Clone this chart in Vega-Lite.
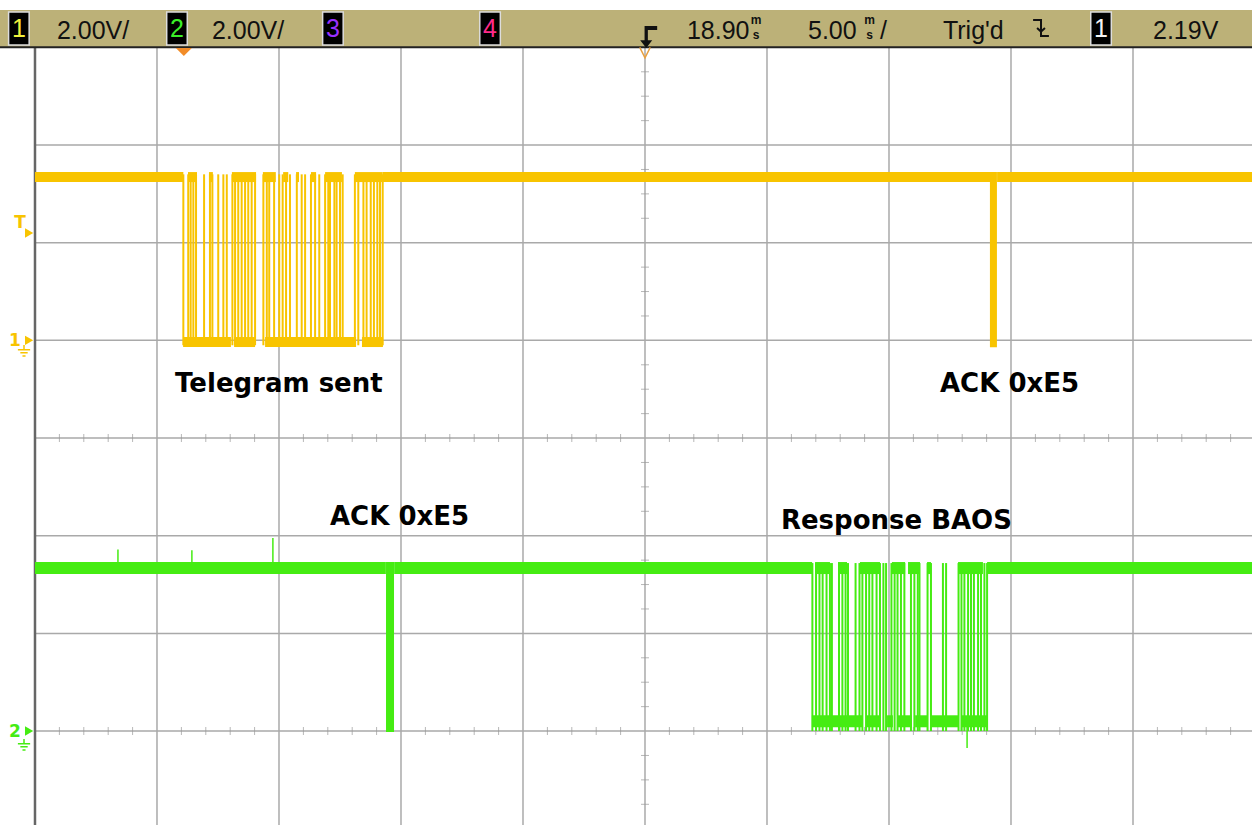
{
"$schema": "https://vega.github.io/schema/vega-lite/v6.json",
"width": 1252, "height": 825, "autosize": {"type": "none"}, "padding": 0,
"background": "white",
"config": {"view": {"stroke": null}},
"datasets": {
 "vgrid": [{"t": -1.1}, {"t": 3.9}, {"t": 8.9}, {"t": 13.9}, {"t": 18.9}, {"t": 23.9}, {"t": 28.9}, {"t": 33.9}, {"t": 38.9}],
 "hgrid": [{"d": 1}, {"d": 2}, {"d": 3}, {"d": 4}, {"d": 5}, {"d": 6}, {"d": 7}],
 "xminor": [{"t":-5.1},{"t":-4.1},{"t":-3.1},{"t":-2.1},{"t":-0.1},{"t":0.9},{"t":1.9},{"t":2.9},{"t":4.9},{"t":5.9},{"t":6.9},{"t":7.9},{"t":9.9},{"t":10.9},{"t":11.9},{"t":12.9},{"t":14.9},{"t":15.9},{"t":16.9},{"t":17.9},{"t":19.9},{"t":20.9},{"t":21.9},{"t":22.9},{"t":24.9},{"t":25.9},{"t":26.9},{"t":27.9},{"t":29.9},{"t":30.9},{"t":31.9},{"t":32.9},{"t":34.9},{"t":35.9},{"t":36.9},{"t":37.9},{"t":39.9},{"t":40.9},{"t":41.9},{"t":42.9}],
 "yminor": [{"d":0.25},{"d":0.5},{"d":0.75},{"d":1.25},{"d":1.5},{"d":1.75},{"d":2.25},{"d":2.5},{"d":2.75},{"d":3.25},{"d":3.5},{"d":3.75},{"d":4.25},{"d":4.5},{"d":4.75},{"d":5.25},{"d":5.5},{"d":5.75},{"d":6.25},{"d":6.5},{"d":6.75},{"d":7.25},{"d":7.5},{"d":7.75}],
 "ybands": [
  {"s":"y0","t":-6.1,"d":6.672},{"s":"y0","t":-0.02,"d":6.672},
  {"s":"y1","t":8.15,"d":6.672},{"s":"y1","t":33.04,"d":6.672},
  {"s":"y2","t":33.33,"d":6.672},{"s":"y2","t":43.8,"d":6.672},
  {"s":"h1","t":0.17,"d":6.672},{"s":"h1","t":0.54,"d":6.672},
  {"s":"h2","t":1.03,"d":6.672},{"s":"h2","t":1.19,"d":6.672},
  {"s":"h3","t":1.97,"d":6.672},{"s":"h3","t":2.96,"d":6.672},
  {"s":"h4","t":3.24,"d":6.672},{"s":"h4","t":3.77,"d":6.672},
  {"s":"h5","t":4.07,"d":6.672},{"s":"h5","t":4.28,"d":6.672},
  {"s":"h6","t":4.6,"d":6.672},{"s":"h6","t":4.72,"d":6.672},
  {"s":"h7","t":5.21,"d":6.672},{"s":"h7","t":5.42,"d":6.672},
  {"s":"h8","t":5.79,"d":6.672},{"s":"h8","t":6.48,"d":6.672},
  {"s":"h9","t":7.01,"d":6.672},{"s":"h9","t":8.15,"d":6.672},
  {"s":"l1","t":-0.03,"d":4.983},{"s":"l1","t":1.93,"d":4.983},
  {"s":"l2","t":2.06,"d":4.983},{"s":"l2","t":2.92,"d":4.983},
  {"s":"l3","t":3.33,"d":4.983},{"s":"l3","t":7.06,"d":4.983},
  {"s":"l4","t":7.3,"d":4.983},{"s":"l4","t":8.16,"d":4.983}
 ],
 "gbands": [
  {"s":"g0","t":-6.1,"d":2.669},{"s":"g0","t":8.28,"d":2.669},
  {"s":"g1","t":8.62,"d":2.669},{"s":"g1","t":25.75,"d":2.669},
  {"s":"g2","t":32.92,"d":2.669},{"s":"g2","t":43.8,"d":2.669},
  {"s":"h1","t":25.87,"d":2.669},{"s":"h1","t":26.48,"d":2.669},
  {"s":"h2","t":26.81,"d":2.669},{"s":"h2","t":27.18,"d":2.669},
  {"s":"h3","t":27.71,"d":2.669},{"s":"h3","t":28.53,"d":2.669},
  {"s":"h4","t":29.02,"d":2.669},{"s":"h4","t":29.56,"d":2.669},
  {"s":"h5","t":29.68,"d":2.669},{"s":"h5","t":30.17,"d":2.669},
  {"s":"h6","t":30.46,"d":2.669},{"s":"h6","t":30.62,"d":2.669},
  {"s":"h7","t":31.73,"d":2.669},{"s":"h7","t":32.75,"d":2.669},
  {"s":"l1","t":25.74,"d":1.1},{"s":"l1","t":27.83,"d":1.1},
  {"s":"l2","t":27.99,"d":1.1},{"s":"l2","t":28.53,"d":1.1},
  {"s":"l3","t":28.82,"d":1.1},{"s":"l3","t":29.06,"d":1.1},
  {"s":"l4","t":29.27,"d":1.1},{"s":"l4","t":29.84,"d":1.1},
  {"s":"l5","t":29.97,"d":1.1},{"s":"l5","t":30.46,"d":1.1},
  {"s":"l6","t":30.58,"d":1.1},{"s":"l6","t":31.73,"d":1.1},
  {"s":"l7","t":31.89,"d":1.1},{"s":"l7","t":32.92,"d":1.1}
 ],
 "gspikes": [{"t":3.65,"lo":2.67,"hi":2.976},{"t":0.33,"lo":2.67,"hi":2.85},{"t":-2.7,"lo":2.67,"hi":2.86},{"t":32.1,"lo":0.826,"hi":1.1}],
 "yedges": [{"t":-0.02},{"t":0.18},{"t":0.28},{"t":0.39},{"t":0.5},{"t":0.83},{"t":1.07},{"t":1.17},{"t":1.41},{"t":1.62},{"t":1.76},{"t":1.99},{"t":2.1},{"t":2.23},{"t":2.37},{"t":2.51},{"t":2.64},{"t":2.78},{"t":2.92},{"t":3.26},{"t":3.4},{"t":3.5},{"t":3.7},{"t":3.91},{"t":4.05},{"t":4.19},{"t":4.35},{"t":4.63},{"t":4.83},{"t":4.97},{"t":5.21},{"t":5.38},{"t":5.55},{"t":5.79},{"t":5.92},{"t":5.99},{"t":6.17},{"t":6.26},{"t":6.4},{"t":6.51},{"t":7.01},{"t":7.15},{"t":7.36},{"t":7.49},{"t":7.66},{"t":7.79},{"t":7.93},{"t":8.04},{"t":8.15}],
 "gedges": [{"t":25.76},{"t":25.91},{"t":26.05},{"t":26.18},{"t":26.34},{"t":26.48},{"t":26.56},{"t":26.85},{"t":26.99},{"t":27.12},{"t":27.22},{"t":27.53},{"t":27.69},{"t":27.81},{"t":27.96},{"t":28.09},{"t":28.22},{"t":28.39},{"t":28.53},{"t":28.67},{"t":28.78},{"t":29.0},{"t":29.13},{"t":29.25},{"t":29.39},{"t":29.53},{"t":29.8},{"t":29.94},{"t":30.08},{"t":30.15},{"t":30.48},{"t":30.62},{"t":31.11},{"t":31.24},{"t":31.75},{"t":31.87},{"t":31.99},{"t":32.14},{"t":32.26},{"t":32.38},{"t":32.55},{"t":32.67},{"t":32.81},{"t":32.92}],
 "notes": [{"label":"Telegram sent","t":-0.36,"d":4.471},{"label":"ACK 0xE5","t":30.99,"d":4.471},{"label":"ACK 0xE5","t":5.99,"d":3.109},{"label":"Response BAOS","t":24.47,"d":3.068}],
 "chlabels": [{"label":"T","ch":"1","t":-6.71,"d":6.2},{"label":"1","ch":"1","t":-6.92,"d":4.99},{"label":"2","ch":"2","t":-6.92,"d":0.99}],
 "charrows": [{"ch":"1","t":-6.34,"d":6.099},{"ch":"1","t":-6.34,"d":5.0},{"ch":"2","t":-6.34,"d":1.0}],
 "grounds": [{"ch":"1","t":-6.55,"d":4.891},{"ch":"2","t":-6.55,"d":0.857}],
 "status": [{"label":"2.00V/","t":-5.2},{"label":"2.00V/","t":1.15},{"label":"18.90","t":20.62},{"label":"5.00","t":25.58},{"label":"/","t":28.53},{"label":"Trig'd","t":31.11},{"label":"2.19V","t":39.72}],
 "units": [{"label":"m","t":23.45,"d":8.239},{"label":"s","t":23.45,"d":8.085},{"label":"m","t":28.1,"d":8.239},{"label":"s","t":28.1,"d":8.085}],
 "boxes": [{"ch":"1","n":"1","t":-6.76},{"ch":"2","n":"2","t":-0.28},{"ch":"3","n":"3","t":6.11},{"ch":"4","n":"4","t":12.55},{"ch":"w","n":"1","t":37.59}]
},
"layer": [
 {"data": {"name": "hgrid"}, "mark": {"type": "rule", "color": "#a9a9a9", "strokeWidth": 1.5},
  "encoding": {"x": {"datum": -6.1, "type": "quantitative", "scale": {"domain": [-7.534, 43.777], "nice": false, "zero": false}, "axis": null}, "x2": {"datum": 43.8},
   "y": {"field": "d", "type": "quantitative", "scale": {"domain": [0.038, 8.485], "nice": false, "zero": false}, "axis": null}}},
 {"data": {"name": "vgrid"}, "mark": {"type": "rule", "color": "#a9a9a9", "strokeWidth": 1.5},
  "encoding": {"x": {"field": "t", "type": "quantitative"}, "y": {"datum": 0.038, "type": "quantitative"}, "y2": {"datum": 8}}},
 {"data": {"values": [{"t": -6.1}]}, "mark": {"type": "rule", "color": "#666666", "strokeWidth": 2.5},
  "encoding": {"x": {"field": "t", "type": "quantitative"}, "y": {"datum": 0.038, "type": "quantitative"}, "y2": {"datum": 8}}},
 {"data": {"name": "xminor"}, "mark": {"type": "tick", "orient": "vertical", "size": 8, "thickness": 1, "color": "#999999"},
  "encoding": {"x": {"field": "t", "type": "quantitative"}, "y": {"datum": 4, "type": "quantitative"}}},
 {"data": {"name": "xminor"}, "mark": {"type": "tick", "orient": "vertical", "size": 8, "thickness": 1, "color": "#999999"},
  "encoding": {"x": {"field": "t", "type": "quantitative"}, "y": {"datum": 1, "type": "quantitative"}}},
 {"data": {"name": "yminor"}, "mark": {"type": "tick", "orient": "horizontal", "size": 8, "thickness": 1, "color": "#999999"},
  "encoding": {"x": {"datum": 18.9, "type": "quantitative"}, "y": {"field": "d", "type": "quantitative"}}},
 {"data": {"name": "yedges"}, "mark": {"type": "rule", "color": "#f8c400", "strokeWidth": 2},
  "encoding": {"x": {"field": "t", "type": "quantitative"}, "y": {"datum": 4.95, "type": "quantitative"}, "y2": {"datum": 6.7}}},
 {"data": {"name": "gedges"}, "mark": {"type": "rule", "color": "#45ec12", "strokeWidth": 2},
  "encoding": {"x": {"field": "t", "type": "quantitative"}, "y": {"datum": 1.0, "type": "quantitative"}, "y2": {"datum": 2.72}}},
 {"data": {"name": "gspikes"}, "mark": {"type": "rule", "color": "#45ec12", "strokeWidth": 1.5},
  "encoding": {"x": {"field": "t", "type": "quantitative"}, "y": {"field": "lo", "type": "quantitative"}, "y2": {"field": "hi"}}},
 {"data": {"name": "ybands"}, "mark": {"type": "line", "color": "#f8c400", "strokeWidth": 10, "strokeCap": "butt"},
  "encoding": {"x": {"field": "t", "type": "quantitative"}, "y": {"field": "d", "type": "quantitative"}, "detail": {"field": "s"}}},
 {"data": {"name": "gbands"}, "mark": {"type": "line", "color": "#45ec12", "strokeWidth": 12, "strokeCap": "butt"},
  "encoding": {"x": {"field": "t", "type": "quantitative"}, "y": {"field": "d", "type": "quantitative"}, "detail": {"field": "s"}}},
 {"data": {"values": [{"t": 33.18}]}, "mark": {"type": "rule", "color": "#f8c400", "strokeWidth": 7},
  "encoding": {"x": {"field": "t", "type": "quantitative"}, "y": {"datum": 4.93, "type": "quantitative"}, "y2": {"datum": 6.723}}},
 {"data": {"values": [{"t": 8.45}]}, "mark": {"type": "rule", "color": "#45ec12", "strokeWidth": 8},
  "encoding": {"x": {"field": "t", "type": "quantitative"}, "y": {"datum": 0.99, "type": "quantitative"}, "y2": {"datum": 2.73}}},
 {"data": {"name": "notes"}, "mark": {"type": "text", "font": "DejaVu Sans", "fontWeight": "bold", "fontSize": 26, "align": "left", "baseline": "alphabetic", "color": "#000000"},
  "encoding": {"x": {"field": "t", "type": "quantitative"}, "y": {"field": "d", "type": "quantitative"}, "text": {"field": "label"}}},
 {"data": {"name": "chlabels"}, "mark": {"type": "text", "font": "DejaVu Sans", "fontWeight": "bold", "fontSize": 17, "align": "center", "baseline": "middle"},
  "encoding": {"x": {"field": "t", "type": "quantitative"}, "y": {"field": "d", "type": "quantitative"}, "text": {"field": "label"}, "color": {"field": "ch", "type": "nominal", "scale": {"domain": ["1", "2"], "range": ["#f8c400", "#45ec12"]}, "legend": null}}},
 {"data": {"name": "charrows"}, "mark": {"type": "point", "shape": "triangle-right", "filled": true, "size": 90, "opacity": 1},
  "encoding": {"x": {"field": "t", "type": "quantitative"}, "y": {"field": "d", "type": "quantitative"}, "color": {"field": "ch", "type": "nominal", "legend": null}}},
 {"data": {"name": "grounds"}, "mark": {"type": "point", "shape": "M0,-1V-0.2M-1,-0.2H1M-0.6,0.3H0.6M-0.25,0.8H0.25", "filled": false, "size": 150, "strokeWidth": 1.5, "opacity": 1},
  "encoding": {"x": {"field": "t", "type": "quantitative"}, "y": {"field": "d", "type": "quantitative"}, "color": {"field": "ch", "type": "nominal", "legend": null}}},
 {"data": {"values": [{}]}, "mark": {"type": "rect", "color": "#bcb178"},
  "encoding": {"x": {"datum": -7.6, "type": "quantitative"}, "x2": {"datum": 43.8}, "y": {"datum": 8.0, "type": "quantitative"}, "y2": {"datum": 8.382}}},
 {"data": {"values": [{}]}, "mark": {"type": "rule", "color": "#222222", "strokeWidth": 2},
  "encoding": {"x": {"datum": -7.6, "type": "quantitative"}, "x2": {"datum": 43.8}, "y": {"datum": 8.0, "type": "quantitative"}}},
 {"data": {"name": "status"}, "mark": {"type": "text", "font": "Liberation Sans", "fontSize": 25, "align": "left", "baseline": "alphabetic", "color": "#111111"},
  "encoding": {"x": {"field": "t", "type": "quantitative"}, "y": {"datum": 8.09, "type": "quantitative"}, "text": {"field": "label"}}},
 {"data": {"name": "units"}, "mark": {"type": "text", "font": "Liberation Sans", "fontWeight": "bold", "fontSize": 12, "align": "center", "baseline": "alphabetic", "color": "#111111"},
  "encoding": {"x": {"field": "t", "type": "quantitative"}, "y": {"field": "d", "type": "quantitative"}, "text": {"field": "label"}}},
 {"data": {"name": "boxes"}, "mark": {"type": "point", "shape": "M-0.62,-1H0.62V1H-0.62Z", "filled": true, "fill": "#000000", "stroke": "#dddddd", "strokeWidth": 1.5, "size": 1100, "opacity": 1},
  "encoding": {"x": {"field": "t", "type": "quantitative"}, "y": {"datum": 8.193, "type": "quantitative"}}},
 {"data": {"name": "boxes"}, "mark": {"type": "text", "font": "Liberation Sans", "fontSize": 25, "align": "center", "baseline": "middle"},
  "encoding": {"x": {"field": "t", "type": "quantitative"}, "y": {"datum": 8.193, "type": "quantitative"}, "text": {"field": "n"}, "fill": {"field": "ch", "type": "nominal", "scale": {"domain": ["1", "2", "3", "4", "w"], "range": ["#f0f03c", "#3cf028", "#9b30ff", "#ff2a8a", "#f4f4f4"]}, "legend": null}}},
 {"data": {"values": [{"t": 35.13, "d": 8.198}]}, "mark": {"type": "point", "shape": "M-1,-1H0V1H1M-0.5,0L0,0.45L0.5,0", "filled": false, "stroke": "#111111", "strokeWidth": 2, "size": 250, "opacity": 1},
  "encoding": {"x": {"field": "t", "type": "quantitative"}, "y": {"field": "d", "type": "quantitative"}}},
 {"data": {"values": [{"t": 18.95, "d": 8.106}]}, "mark": {"type": "point", "shape": "M0,1L-0.55,0.3H-0.15V-1H1V-0.65H0.15V0.3H0.55Z", "filled": true, "fill": "#111111", "size": 480, "opacity": 1},
  "encoding": {"x": {"field": "t", "type": "quantitative"}, "y": {"field": "d", "type": "quantitative"}}},
 {"data": {"values": [{"t": 18.9, "d": 7.947}]}, "mark": {"type": "point", "shape": "M-1,-1L0,1L1,-1", "filled": false, "stroke": "#e8a040", "strokeWidth": 1.5, "size": 110, "opacity": 1},
  "encoding": {"x": {"field": "t", "type": "quantitative"}, "y": {"field": "d", "type": "quantitative"}}},
 {"data": {"values": [{"t": 0, "d": 7.952}]}, "mark": {"type": "point", "shape": "M-1,-0.5H1L0,0.5Z", "filled": true, "fill": "#f28c28", "size": 256, "opacity": 1},
  "encoding": {"x": {"field": "t", "type": "quantitative"}, "y": {"field": "d", "type": "quantitative"}}}
]
}
